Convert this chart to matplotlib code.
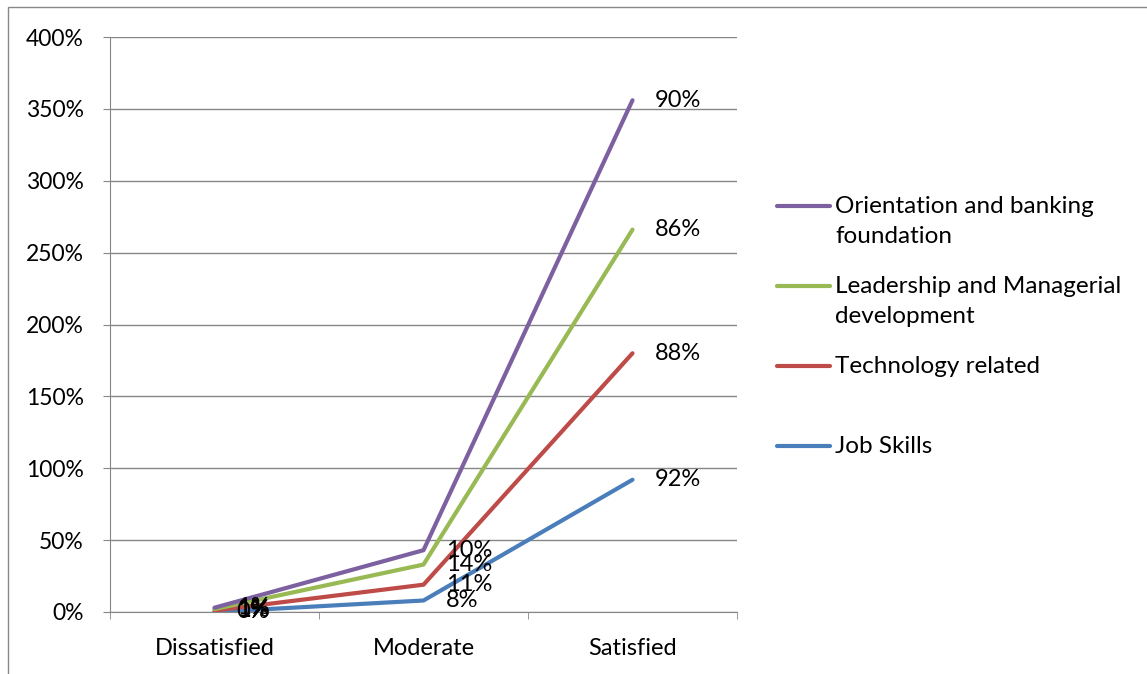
import matplotlib
matplotlib.use("Agg")
import matplotlib.pyplot as plt
import numpy as np
from matplotlib.lines import Line2D
from matplotlib.patches import Rectangle
from matplotlib.ticker import FuncFormatter, MultipleLocator

categories = ["Dissatisfied", "Moderate", "Satisfied"]
series_names = ["Job Skills", "Technology related",
                "Leadership and Managerial\ndevelopment",
                "Orientation and banking\nfoundation"]
job_skills = [0, 8, 92]
technology = [1, 11, 88]
leadership = [1, 14, 86]
orientation = [1, 10, 90]
colors = ["#4A7EBB", "#BE4B48", "#98B954", "#7D60A0"]

plt.rcParams["font.family"] = ["Lato", "DejaVu Sans"]
W, H = 1147, 674
FS = 17
fig = plt.figure(figsize=(W / 100, H / 100), dpi=100)
ax = fig.add_axes([110 / W, 62 / H, 627 / W, 575 / H])

values = np.array([job_skills, technology, leadership, orientation], float)
stacked = np.cumsum(values, axis=0)
x = np.arange(len(categories))

for vals, top, c in zip(values, stacked, colors):
    ax.plot(x, top, color=c, lw=3, solid_capstyle="round", zorder=3)
    for xi, yi, v in zip(x, top, vals):
        ax.annotate(f"{v:.0f}%", (xi, yi), xytext=(16, 0), textcoords="offset points",
                    ha="left", va="center", fontsize=FS, zorder=4)

ax.set_xlim(-0.5, 2.5)
ax.set_ylim(0, 400)
ax.yaxis.set_major_locator(MultipleLocator(50))
ax.yaxis.set_major_formatter(FuncFormatter(lambda v, p: f"{v:.0f}%"))
ax.grid(axis="y", color="#868686", lw=1, zorder=0)
ax.set_xticks(x)
ax.set_xticklabels(categories)
ax.set_xticks([-0.5, 0.5, 1.5, 2.5], minor=True)
ax.tick_params(axis="x", which="major", length=0, pad=19, labelsize=FS)
ax.tick_params(axis="x", which="minor", length=5, color="#868686", direction="out")
ax.tick_params(axis="y", length=5, color="#868686", pad=14, labelsize=16.5)
for s in ["top", "right"]:
    ax.spines[s].set_visible(False)
for s in ["left", "bottom"]:
    ax.spines[s].set_color("#868686")

# legend, drawn by hand to mimic Excel layout (handle aligned with first line)
order = [3, 2, 1, 0]
for i, k in enumerate(order):
    y = 1 - (206 + 80 * i) / H
    fig.add_artist(Line2D([777 / W, 830 / W], [y, y], color=colors[k], lw=3,
                          solid_capstyle="round", transform=fig.transFigure))
    fig.text(835 / W, y + 10 / H, series_names[k], ha="left", va="top",
             fontsize=17.5, linespacing=1.55)

# chart area frame
fig.add_artist(Rectangle((8 / W, -0.02), 1.05, 1.02 - 7 / H, fill=False,
                         edgecolor="#888888", lw=1, transform=fig.transFigure))

fig.savefig("out.png", dpi=100)
